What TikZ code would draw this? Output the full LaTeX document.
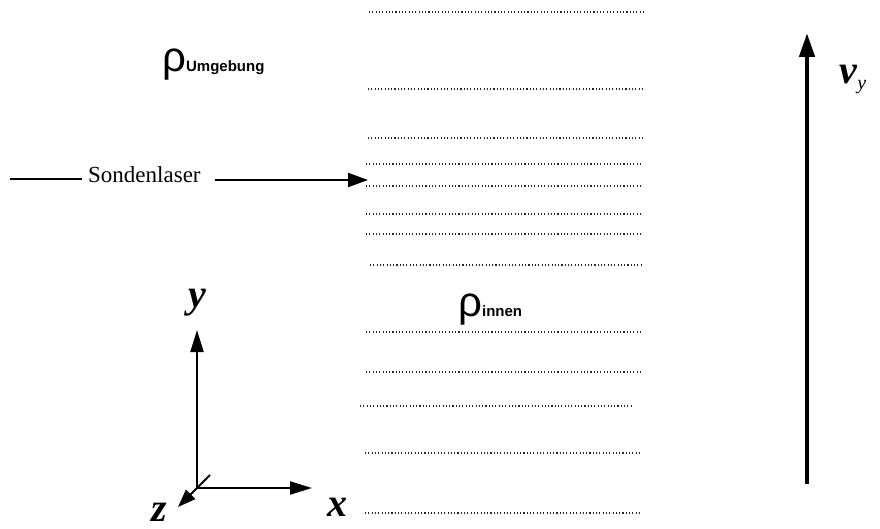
\documentclass[tikz,border=0pt]{standalone}
\usepackage{fontspec}
\setmainfont{Liberation Serif}
\setsansfont{Liberation Sans}
\usetikzlibrary{arrows.meta}
\begin{document}
\begin{tikzpicture}[x=1pt,y=-1pt,
  layer/.style={line width=1.2pt,dash pattern=on 1.1pt off 2.2pt,black!85},
  axis/.style={line width=2pt,-{Triangle[length=22pt,width=13pt]}},
  lbl/.style={inner sep=0pt,font=\fontsize{40}{40}\selectfont\bfseries\itshape},
  rhotxt/.style={inner sep=0pt,anchor=base west}]
\useasboundingbox (0,0) rectangle (880,529);
% dotted layers
\foreach \y/\a/\b [count=\i] in {12/369/643, 89/368/643, 138/368/642, 164/366/640,
   186/366/640, 214/366/640, 234/366/640, 265/370/643, 332/366/640, 372/366/640,
   406/360/633, 453/365/640, 513/365/640}{
  \coordinate (L\i a) at (\a,\y);
  \coordinate (L\i b) at (\b,\y);
  \draw[layer] (L\i a) -- (L\i b);
}
% density labels
\node[rhotxt] (rhoU) at (162,72) {{\fontsize{42}{42}\selectfont\sffamily ρ}{\fontsize{15}{15}\selectfont\sffamily\bfseries Umgebung}};
\node[rhotxt] (rhoI) at (458,316) {{\fontsize{42}{42}\selectfont\sffamily ρ}{\fontsize{15}{15}\selectfont\sffamily\bfseries innen}};
% probe laser
\node[inner sep=0pt,anchor=base west,font=\fontsize{23}{23}\selectfont] (laser) at (88,183) {Sondenlaser};
\coordinate (lstart) at (10,179);
\coordinate (lend) at (368,180);
\draw[line width=2pt] (lstart) -- ([xshift=-6pt]laser.west |- lstart);
\draw[line width=2pt,-{Triangle[length=20pt,width=14pt]}] ([xshift=14pt]laser.east |- lend) -- (lend);
% axes
\coordinate (O) at (197,488);
\coordinate (Y) at (197,330);
\coordinate (X) at (312,488);
\coordinate (Zb) at (210,475);
\coordinate (Z) at (178,507);
\draw[axis] (O) -- (Y);
\draw[axis] (O) -- (X);
\draw[line width=2pt] (O) -- (Zb);
\draw[line width=2pt,-{Triangle[length=18pt,width=13pt]}] (O) -- (Z);
\node[lbl] (ylab) at (197,303) {y};
\node[lbl] (xlab) at (337,507) {x};
\node[lbl] (zlab) at (159,512) {z};
% velocity arrow
\coordinate (vb) at (807,484);
\coordinate (vt) at (807,33);
\draw[line width=4.5pt,-{Triangle[length=24pt,width=15pt]}] (vb) -- (vt);
\node[inner sep=0pt] (vlab) at (853,79) {{\fontsize{40}{40}\selectfont\bfseries\itshape v}{\fontsize{20}{20}\selectfont\itshape\raisebox{-6pt}{y}}};
\end{tikzpicture}
\end{document}
